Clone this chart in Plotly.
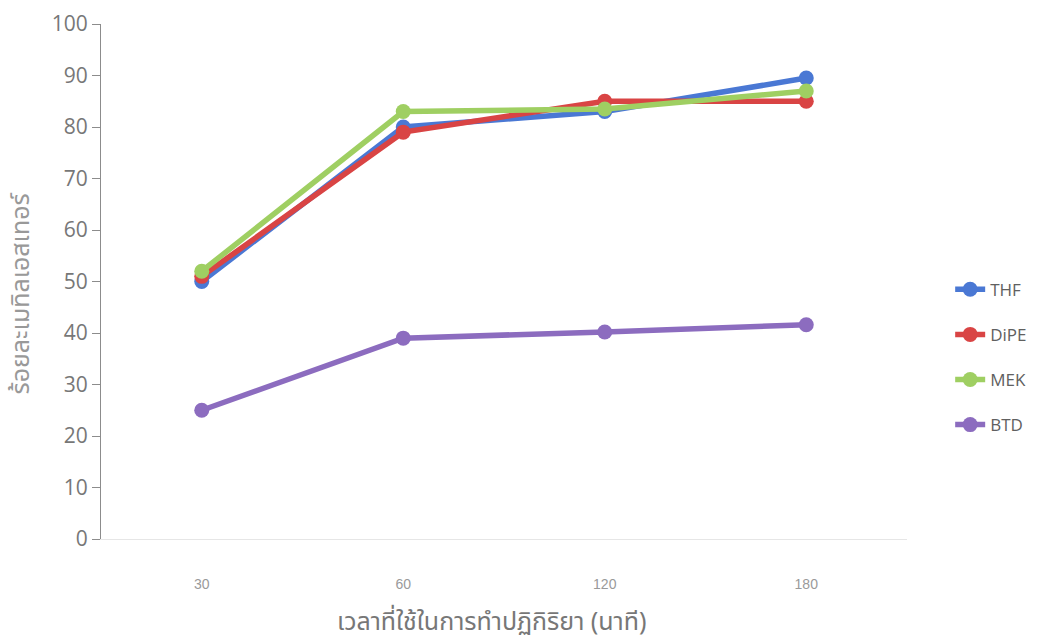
import plotly.graph_objects as go

categories = ["30", "60", "120", "180"]
thf = [50, 80, 83, 89.5]
dipe = [51, 79, 85, 85]
mek = [52, 83, 83.5, 87]
btd = [25, 39, 40.2, 41.6]

series_names = ["THF", "DiPE", "MEK", "BTD"]
series_values = [thf, dipe, mek, btd]
colors = ["#4a78d4", "#d94444", "#9fcf62", "#8c6cbf"]

y_title = "ร้อยละเมทิลเอสเทอร์"
x_title = "เวลาที่ใช้ในการทำปฏิกิริยา (นาที)"
y_ticks = [0, 10, 20, 30, 40, 50, 60, 70, 80, 90, 100]

fig = go.Figure()
for i, (name, vals, col) in enumerate(zip(series_names, series_values, colors)):
    fig.add_trace(go.Scatter(
        x=categories, y=vals, name=name, mode="lines+markers",
        line=dict(color=col, width=5.5),
        marker=dict(color=col, size=15),
        legendgroup=name,
    ))

thai_font = "Noto Sans Thai, Loma, Garuda, Noto Sans, sans-serif"

fig.update_layout(
    width=1043, height=644,
    margin=dict(l=101, r=136, t=24, b=105),
    paper_bgcolor="white", plot_bgcolor="white",
    showlegend=True,
    legend=dict(
        xref="container", yref="container",
        x=0.911, xanchor="left", y=0.578, yanchor="top",
        font=dict(family="Open Sans, sans-serif", size=17, color="#606060"),
        traceorder="grouped", tracegroupgap=20,
        bgcolor="rgba(0,0,0,0)",
    ),
    xaxis=dict(
        type="category", range=[-0.5, 3.5], automargin=False,
        showgrid=False, zeroline=False,
        showline=True, linecolor="#e6e6e6", linewidth=1,
        ticks="outside", ticklen=0,
        ticklabelstandoff=32,
        tickfont=dict(family="Liberation Sans Narrow, Liberation Sans, sans-serif", size=14, color="#9a9a9a"),
    ),
    yaxis=dict(
        range=[0, 100], tickvals=y_ticks, automargin=False,
        showgrid=False, zeroline=False,
        showline=True, linecolor="#8c8c8c", linewidth=1,
        ticks="outside", ticklen=8, tickcolor="#8c8c8c",
        tickfont=dict(family="Open Sans, sans-serif", size=21, color="#777777"),
    ),
    annotations=[
        dict(text=x_title, xref="paper", yref="paper", x=0.484, y=-0.161,
             xanchor="center", yanchor="middle", showarrow=False,
             font=dict(family=thai_font, size=25, color="#777777")),
        dict(text=y_title, xref="paper", yref="paper", x=-0.099, y=0.477,
             xanchor="center", yanchor="middle", showarrow=False, textangle=-90,
             font=dict(family=thai_font, size=25, color="#999999")),
    ],
)

fig.write_html("out.html")
